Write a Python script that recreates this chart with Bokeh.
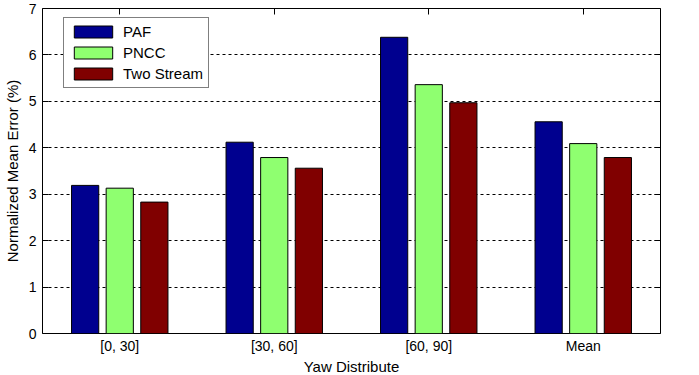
from bokeh.plotting import figure
from bokeh.models import (FactorRange, Range1d, LinearAxis, CategoricalAxis,
                          FixedTicker, Legend, LegendItem, ColumnDataSource)
from bokeh.transform import dodge
from bokeh.embed import file_html
from bokeh.resources import INLINE

categories = ["[0, 30]", "[30, 60]", "[60, 90]", "Mean"]
paf = [3.19, 4.12, 6.38, 4.56]
pncc = [3.13, 3.79, 5.36, 4.09]
two_stream = [2.83, 3.56, 4.97, 3.79]
series_names = ["PAF", "PNCC", "Two Stream"]
y_ticks = [0, 1, 2, 3, 4, 5, 6, 7]

src = ColumnDataSource(dict(cat=categories, paf=paf, pncc=pncc, ts=two_stream))

FONT = "Liberation Sans"

p = figure(x_range=FactorRange(*categories, range_padding=0),
           y_range=Range1d(0, 7),
           width=699, height=377,
           output_backend="svg", toolbar_location=None,
           min_border_left=40, min_border_right=39,
           min_border_top=8, min_border_bottom=42,
           x_axis_location=None, y_axis_location=None)
p.styles = {"margin-left": "0px", "margin-top": "0px",
            "margin-right": "0px", "margin-bottom": "-2px"}

p.background_fill_color = "white"
p.border_fill_color = "white"
p.outline_line_color = "black"
p.outline_line_width = 1
p.outline_line_alpha = 1

off = 0.224
bw = 0.176
colors = ["#00008F", "#8FFF70", "#800000"]
fields = ["paf", "pncc", "ts"]
renderers = []
for i, (f, c) in enumerate(zip(fields, colors)):
    r = p.vbar(x=dodge("cat", (i - 1) * off, range=p.x_range), top=f, width=bw,
               bottom=0, source=src, fill_color=c, line_color="black", line_width=1)
    renderers.append(r)

# grid
p.xgrid.visible = False
p.ygrid.grid_line_color = "black"
p.ygrid.grid_line_dash = "3 3"
p.ygrid.grid_line_width = 1
p.ygrid.ticker = FixedTicker(ticks=y_ticks)

# axes
left = LinearAxis(ticker=FixedTicker(ticks=y_ticks), axis_label="Normalized Mean Error (%)")
right = LinearAxis(ticker=FixedTicker(ticks=y_ticks))
bottom = CategoricalAxis(axis_label="Yaw Distribute")
top = CategoricalAxis()

for ax in (left, right, bottom, top):
    ax.axis_line_color = None
    ax.major_tick_line_color = "black"
    ax.major_tick_out = 0
    ax.major_tick_in = 6
    ax.minor_tick_line_color = None
    ax.major_label_text_font = FONT
    ax.major_label_text_font_size = "14px"
    ax.major_label_text_color = "black"
    ax.axis_label_text_font = FONT
    ax.axis_label_text_font_size = "15px"
    ax.axis_label_text_font_style = "normal"
    ax.axis_label_text_color = "black"

bottom.major_tick_in = 0
left.major_label_standoff = 6
bottom.major_label_standoff = 4
bottom.axis_label_standoff = 1
left.axis_label_standoff = 5
for ax in (right, top):
    ax.major_label_text_font_size = "0px"
    ax.major_label_standoff = 0
    ax.major_label_text_color = None

p.add_layout(left, "left")
p.add_layout(right, "right")
p.add_layout(bottom, "below")
p.add_layout(top, "above")

legend = Legend(items=[LegendItem(label=n, renderers=[r]) for n, r in zip(series_names, renderers)],
                location=(21, 245))
legend.border_line_color = "black"
legend.border_line_width = 1
legend.background_fill_color = "white"
legend.background_fill_alpha = 1
legend.glyph_width = 48
legend.glyph_height = 15
legend.label_height = 15
legend.spacing = 4
legend.padding = 5
legend.margin = 0
legend.label_standoff = 6
legend.label_text_font = FONT
legend.label_text_font_size = "15px"
legend.label_text_color = "black"
p.add_layout(legend)

open("out.html", "w").write(file_html(p, INLINE))
